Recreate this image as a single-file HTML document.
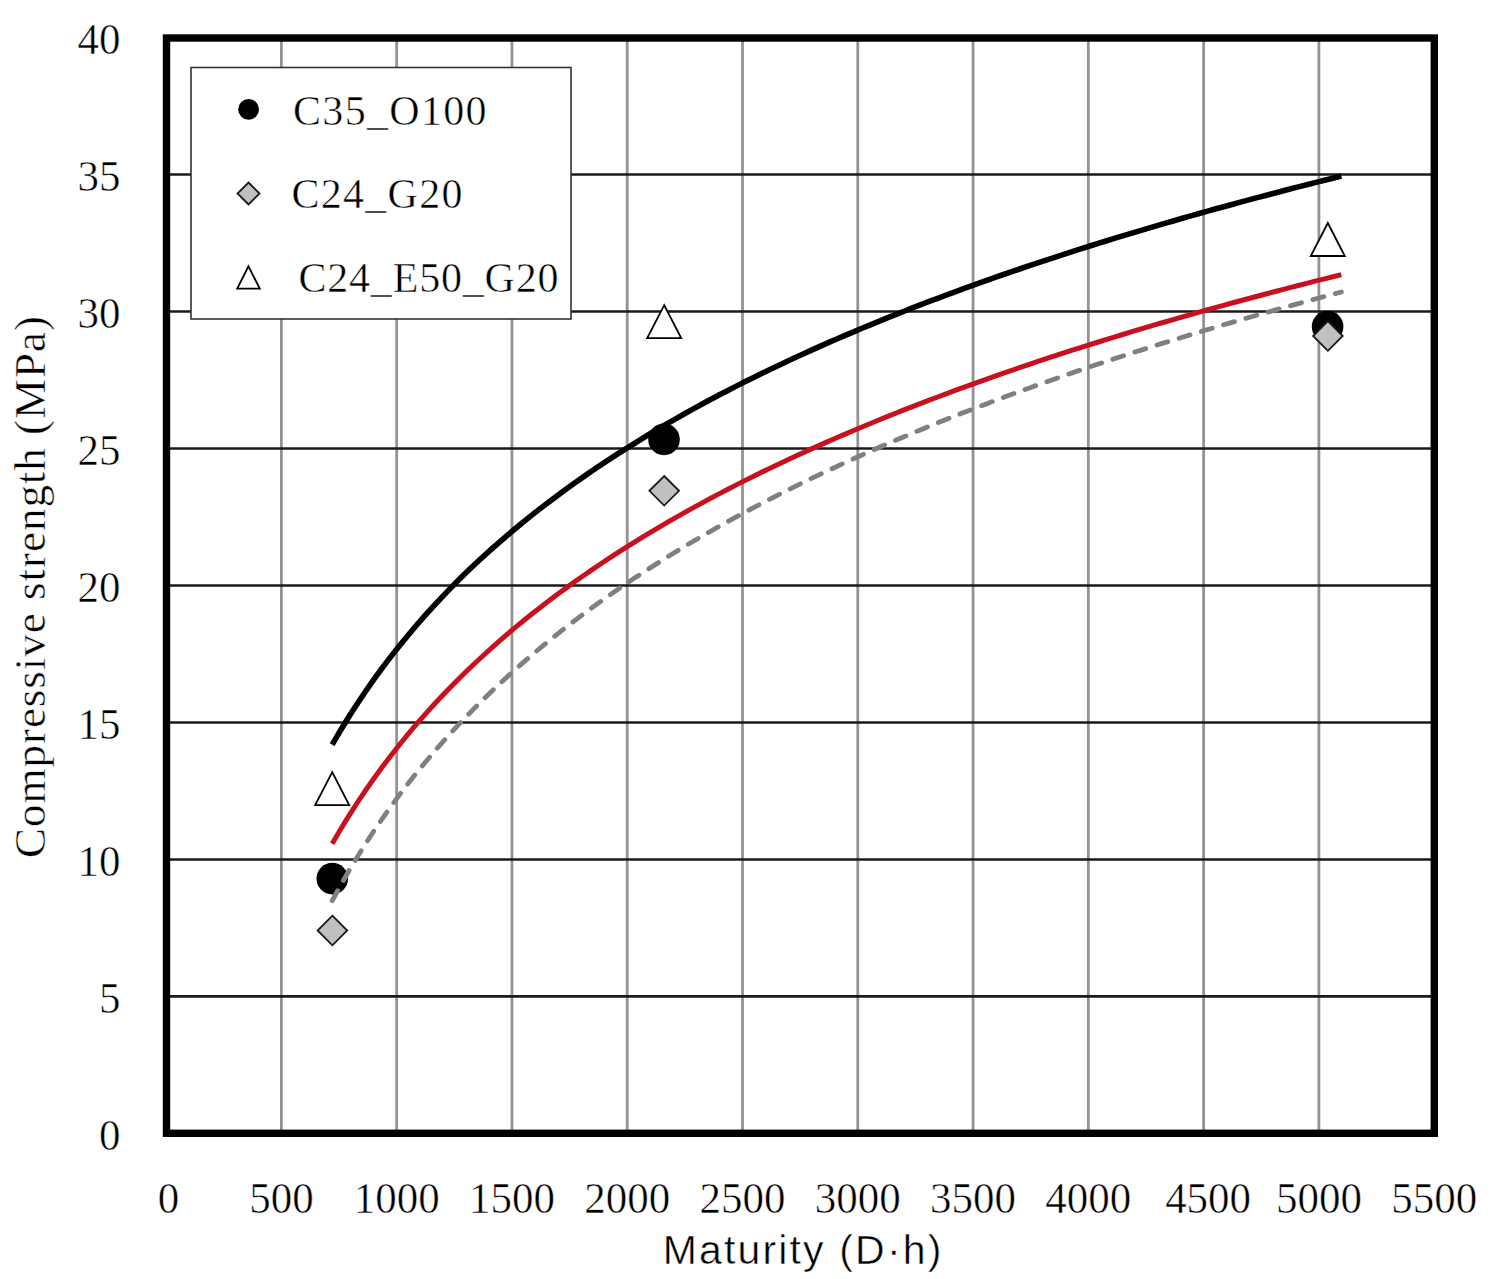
<!DOCTYPE html>
<html><head><meta charset="utf-8"><style>
html,body{margin:0;padding:0;background:#fff;width:1491px;height:1279px;overflow:hidden}
svg{display:block}
</style></head><body>
<svg width="1491" height="1279" viewBox="0 0 1491 1279">
<rect width="1491" height="1279" fill="#fff"/>
<line x1="281.38" y1="38" x2="281.38" y2="1133" stroke="#939393" stroke-width="2.8"/>
<line x1="396.66" y1="38" x2="396.66" y2="1133" stroke="#939393" stroke-width="2.8"/>
<line x1="511.94" y1="38" x2="511.94" y2="1133" stroke="#939393" stroke-width="2.8"/>
<line x1="627.22" y1="38" x2="627.22" y2="1133" stroke="#939393" stroke-width="2.8"/>
<line x1="742.50" y1="38" x2="742.50" y2="1133" stroke="#939393" stroke-width="2.8"/>
<line x1="857.78" y1="38" x2="857.78" y2="1133" stroke="#939393" stroke-width="2.8"/>
<line x1="973.06" y1="38" x2="973.06" y2="1133" stroke="#939393" stroke-width="2.8"/>
<line x1="1088.34" y1="38" x2="1088.34" y2="1133" stroke="#939393" stroke-width="2.8"/>
<line x1="1203.62" y1="38" x2="1203.62" y2="1133" stroke="#939393" stroke-width="2.8"/>
<line x1="1318.90" y1="38" x2="1318.90" y2="1133" stroke="#939393" stroke-width="2.8"/>
<line x1="167" y1="996.42" x2="1434" y2="996.42" stroke="#1a1a1a" stroke-width="2.6"/>
<line x1="167" y1="859.44" x2="1434" y2="859.44" stroke="#1a1a1a" stroke-width="2.6"/>
<line x1="167" y1="722.46" x2="1434" y2="722.46" stroke="#1a1a1a" stroke-width="2.6"/>
<line x1="167" y1="585.48" x2="1434" y2="585.48" stroke="#1a1a1a" stroke-width="2.6"/>
<line x1="167" y1="448.50" x2="1434" y2="448.50" stroke="#1a1a1a" stroke-width="2.6"/>
<line x1="167" y1="311.52" x2="1434" y2="311.52" stroke="#1a1a1a" stroke-width="2.6"/>
<line x1="167" y1="174.54" x2="1434" y2="174.54" stroke="#1a1a1a" stroke-width="2.6"/>
<rect x="166.5" y="38.0" width="1267.8" height="1095.3" fill="none" stroke="#000" stroke-width="7.4"/>
<path d="M332.20,772.20 L349.20,805.20 L315.20,805.20 Z" fill="#fff" stroke="#000" stroke-width="1.8"/>
<path d="M664.20,305.10 L681.20,338.10 L647.20,338.10 Z" fill="#fff" stroke="#000" stroke-width="1.8"/>
<path d="M1327.80,223.00 L1344.80,256.00 L1310.80,256.00 Z" fill="#fff" stroke="#000" stroke-width="1.8"/>
<circle cx="332.30" cy="878.60" r="15.8" fill="#000"/>
<circle cx="664.00" cy="439.40" r="15.8" fill="#000"/>
<circle cx="1327.60" cy="326.60" r="15.8" fill="#000"/>
<path d="M332.40,915.70 L347.20,930.50 L332.40,945.30 L317.60,930.50 Z" fill="#c0c0c0" stroke="#1a1a1a" stroke-width="1.8"/>
<path d="M664.20,476.00 L679.00,490.80 L664.20,505.60 L649.40,490.80 Z" fill="#c0c0c0" stroke="#1a1a1a" stroke-width="1.8"/>
<path d="M1327.90,321.20 L1342.70,336.00 L1327.90,350.80 L1313.10,336.00 Z" fill="#c0c0c0" stroke="#1a1a1a" stroke-width="1.8"/>
<path d="M332.19,744.57 L340.60,730.21 L349.01,716.52 L357.42,703.46 L365.83,690.95 L374.24,678.97 L382.65,667.45 L391.06,656.38 L399.46,645.71 L407.87,635.42 L416.28,625.49 L424.69,615.88 L433.10,606.58 L441.51,597.57 L449.92,588.83 L458.33,580.34 L466.74,572.10 L475.15,564.08 L483.56,556.28 L491.97,548.69 L500.38,541.28 L508.79,534.06 L517.20,527.02 L525.61,520.14 L534.02,513.43 L542.43,506.86 L550.84,500.44 L559.25,494.16 L567.66,488.01 L576.07,481.99 L584.48,476.09 L592.89,470.31 L601.30,464.64 L609.70,459.08 L618.11,453.62 L626.52,448.27 L634.93,443.01 L643.34,437.84 L651.75,432.77 L660.16,427.78 L668.57,422.88 L676.98,418.06 L685.39,413.31 L693.80,408.65 L702.21,404.05 L710.62,399.53 L719.03,395.08 L727.44,390.70 L735.85,386.38 L744.26,382.12 L752.67,377.93 L761.08,373.79 L769.49,369.71 L777.90,365.69 L786.31,361.73 L794.72,357.82 L803.13,353.96 L811.54,350.15 L819.94,346.39 L828.35,342.67 L836.76,339.01 L845.17,335.39 L853.58,331.81 L861.99,328.28 L870.40,324.79 L878.81,321.35 L887.22,317.94 L895.63,314.57 L904.04,311.24 L912.45,307.95 L920.86,304.70 L929.27,301.48 L937.68,298.30 L946.09,295.15 L954.50,292.03 L962.91,288.95 L971.32,285.90 L979.73,282.88 L988.14,279.90 L996.55,276.94 L1004.96,274.01 L1013.37,271.12 L1021.78,268.25 L1030.18,265.41 L1038.59,262.59 L1047.00,259.81 L1055.41,257.05 L1063.82,254.31 L1072.23,251.61 L1080.64,248.92 L1089.05,246.27 L1097.46,243.63 L1105.87,241.02 L1114.28,238.43 L1122.69,235.87 L1131.10,233.33 L1139.51,230.81 L1147.92,228.31 L1156.33,225.83 L1164.74,223.37 L1173.15,220.94 L1181.56,218.52 L1189.97,216.13 L1198.38,213.75 L1206.79,211.40 L1215.20,209.06 L1223.61,206.74 L1232.02,204.44 L1240.42,202.16 L1248.83,199.89 L1257.24,197.64 L1265.65,195.42 L1274.06,193.20 L1282.47,191.01 L1290.88,188.83 L1299.29,186.66 L1307.70,184.52 L1316.11,182.38 L1324.52,180.27 L1332.93,178.17 L1341.34,176.08" fill="none" stroke="#000" stroke-width="5.6"/>
<path d="M332.19,843.67 L340.60,829.30 L349.01,815.60 L357.42,802.52 L365.83,790.00 L374.24,778.01 L382.65,766.48 L391.06,755.40 L399.46,744.72 L407.87,734.42 L416.28,724.48 L424.69,714.86 L433.10,705.55 L441.51,696.53 L449.92,687.78 L458.33,679.29 L466.74,671.04 L475.15,663.02 L483.56,655.21 L491.97,647.60 L500.38,640.19 L508.79,632.97 L517.20,625.92 L525.61,619.03 L534.02,612.31 L542.43,605.74 L550.84,599.31 L559.25,593.02 L567.66,586.87 L576.07,580.84 L584.48,574.94 L592.89,569.15 L601.30,563.47 L609.70,557.91 L618.11,552.45 L626.52,547.09 L634.93,541.82 L643.34,536.65 L651.75,531.58 L660.16,526.58 L668.57,521.68 L676.98,516.85 L685.39,512.10 L693.80,507.43 L702.21,502.83 L710.62,498.31 L719.03,493.85 L727.44,489.46 L735.85,485.14 L744.26,480.88 L752.67,476.68 L761.08,472.54 L769.49,468.46 L777.90,464.44 L786.31,460.47 L794.72,456.55 L803.13,452.69 L811.54,448.88 L819.94,445.11 L828.35,441.40 L836.76,437.73 L845.17,434.10 L853.58,430.53 L861.99,426.99 L870.40,423.50 L878.81,420.05 L887.22,416.64 L895.63,413.27 L904.04,409.93 L912.45,406.64 L920.86,403.38 L929.27,400.16 L937.68,396.98 L946.09,393.82 L954.50,390.71 L962.91,387.62 L971.32,384.57 L979.73,381.55 L988.14,378.56 L996.55,375.60 L1004.96,372.67 L1013.37,369.77 L1021.78,366.90 L1030.18,364.06 L1038.59,361.24 L1047.00,358.45 L1055.41,355.69 L1063.82,352.95 L1072.23,350.24 L1080.64,347.56 L1089.05,344.90 L1097.46,342.26 L1105.87,339.65 L1114.28,337.06 L1122.69,334.49 L1131.10,331.94 L1139.51,329.42 L1147.92,326.92 L1156.33,324.44 L1164.74,321.98 L1173.15,319.55 L1181.56,317.13 L1189.97,314.73 L1198.38,312.35 L1206.79,309.99 L1215.20,307.65 L1223.61,305.33 L1232.02,303.03 L1240.42,300.75 L1248.83,298.48 L1257.24,296.23 L1265.65,294.00 L1274.06,291.78 L1282.47,289.58 L1290.88,287.40 L1299.29,285.24 L1307.70,283.09 L1316.11,280.95 L1324.52,278.84 L1332.93,276.73 L1341.34,274.65" fill="none" stroke="#c8101e" stroke-width="5.0"/>
<path d="M332.19,900.74 L340.60,885.36 L349.01,870.71 L357.42,856.72 L365.83,843.33 L374.24,830.49 L382.65,818.16 L391.06,806.31 L399.46,794.88 L407.87,783.87 L416.28,773.23 L424.69,762.94 L433.10,752.98 L441.51,743.33 L449.92,733.97 L458.33,724.89 L466.74,716.06 L475.15,707.47 L483.56,699.12 L491.97,690.99 L500.38,683.06 L508.79,675.33 L517.20,667.79 L525.61,660.42 L534.02,653.23 L542.43,646.20 L550.84,639.32 L559.25,632.59 L567.66,626.01 L576.07,619.56 L584.48,613.25 L592.89,607.05 L601.30,600.98 L609.70,595.03 L618.11,589.19 L626.52,583.45 L634.93,577.82 L643.34,572.29 L651.75,566.86 L660.16,561.52 L668.57,556.27 L676.98,551.11 L685.39,546.03 L693.80,541.03 L702.21,536.11 L710.62,531.27 L719.03,526.50 L727.44,521.81 L735.85,517.18 L744.26,512.62 L752.67,508.13 L761.08,503.70 L769.49,499.34 L777.90,495.03 L786.31,490.79 L794.72,486.60 L803.13,482.46 L811.54,478.39 L819.94,474.36 L828.35,470.38 L836.76,466.46 L845.17,462.58 L853.58,458.76 L861.99,454.97 L870.40,451.24 L878.81,447.55 L887.22,443.90 L895.63,440.29 L904.04,436.73 L912.45,433.20 L920.86,429.72 L929.27,426.27 L937.68,422.86 L946.09,419.49 L954.50,416.15 L962.91,412.85 L971.32,409.59 L979.73,406.36 L988.14,403.16 L996.55,399.99 L1004.96,396.86 L1013.37,393.76 L1021.78,390.69 L1030.18,387.64 L1038.59,384.63 L1047.00,381.65 L1055.41,378.69 L1063.82,375.77 L1072.23,372.87 L1080.64,369.99 L1089.05,367.15 L1097.46,364.33 L1105.87,361.53 L1114.28,358.76 L1122.69,356.01 L1131.10,353.29 L1139.51,350.59 L1147.92,347.92 L1156.33,345.26 L1164.74,342.63 L1173.15,340.03 L1181.56,337.44 L1189.97,334.88 L1198.38,332.33 L1206.79,329.81 L1215.20,327.30 L1223.61,324.82 L1232.02,322.36 L1240.42,319.91 L1248.83,317.49 L1257.24,315.08 L1265.65,312.70 L1274.06,310.33 L1282.47,307.97 L1290.88,305.64 L1299.29,303.32 L1307.70,301.02 L1316.11,298.74 L1324.52,296.48 L1332.93,294.23 L1341.34,291.99" fill="none" stroke="#808080" stroke-width="4.8" stroke-dasharray="11.4 11.8" stroke-linecap="round"/>
<rect x="191" y="67.5" width="380" height="251.5" fill="#fff" stroke="#333" stroke-width="1.6"/>
<circle cx="248.60" cy="109.30" r="10.4" fill="#000"/>
<path d="M248.50,182.50 L259.50,193.50 L248.50,204.50 L237.50,193.50 Z" fill="#c0c0c0" stroke="#1a1a1a" stroke-width="1.8"/>
<path d="M248.50,266.30 L259.80,288.70 L237.20,288.70 Z" fill="#fff" stroke="#000" stroke-width="1.8"/>
<g font-family="Liberation Serif" font-size="42" fill="#000" stroke="#fff" stroke-width="0.5">
<text x="293" y="125.2" textLength="193.5" lengthAdjust="spacing">C35_O100</text>
<text x="291.6" y="208.4" textLength="170.8" lengthAdjust="spacing">C24_G20</text>
<text x="298.4" y="292" textLength="260.2" lengthAdjust="spacing">C24_E50_G20</text>
</g>
<g font-family="Liberation Serif" font-size="43" fill="#000" stroke="#fff" stroke-width="0.5">
<text transform="translate(120.6,1150.20) scale(1,1.045)" text-anchor="end">0</text>
<text transform="translate(120.6,1013.22) scale(1,1.045)" text-anchor="end">5</text>
<text transform="translate(120.6,876.24) scale(1,1.045)" text-anchor="end">10</text>
<text transform="translate(120.6,739.26) scale(1,1.045)" text-anchor="end">15</text>
<text transform="translate(120.6,602.28) scale(1,1.045)" text-anchor="end">20</text>
<text transform="translate(120.6,465.30) scale(1,1.045)" text-anchor="end">25</text>
<text transform="translate(120.6,328.32) scale(1,1.045)" text-anchor="end">30</text>
<text transform="translate(120.6,191.34) scale(1,1.045)" text-anchor="end">35</text>
<text transform="translate(120.6,54.36) scale(1,1.045)" text-anchor="end">40</text>
<text transform="translate(168.60,1212.8) scale(1,1.045)" text-anchor="middle">0</text>
<text transform="translate(281.38,1212.8) scale(1,1.045)" text-anchor="middle">500</text>
<text transform="translate(396.66,1212.8) scale(1,1.045)" text-anchor="middle">1000</text>
<text transform="translate(511.94,1212.8) scale(1,1.045)" text-anchor="middle">1500</text>
<text transform="translate(627.22,1212.8) scale(1,1.045)" text-anchor="middle">2000</text>
<text transform="translate(742.50,1212.8) scale(1,1.045)" text-anchor="middle">2500</text>
<text transform="translate(857.78,1212.8) scale(1,1.045)" text-anchor="middle">3000</text>
<text transform="translate(973.06,1212.8) scale(1,1.045)" text-anchor="middle">3500</text>
<text transform="translate(1088.34,1212.8) scale(1,1.045)" text-anchor="middle">4000</text>
<text transform="translate(1208.12,1212.8) scale(1,1.045)" text-anchor="middle">4500</text>
<text transform="translate(1318.90,1212.8) scale(1,1.045)" text-anchor="middle">5000</text>
<text transform="translate(1434.18,1212.8) scale(1,1.045)" text-anchor="middle">5500</text>
</g>
<text x="802" y="1263.8" font-family="Liberation Sans" font-size="41" stroke="#fff" stroke-width="0.5" textLength="278.6" lengthAdjust="spacing" text-anchor="middle">Maturity (D·h)</text>
<text transform="translate(45,587) rotate(-90)" font-family="Liberation Serif" font-size="45" stroke="#fff" stroke-width="0.5" textLength="542" lengthAdjust="spacing" text-anchor="middle">Compressive strength (MPa)</text>
</svg>
</body></html>
